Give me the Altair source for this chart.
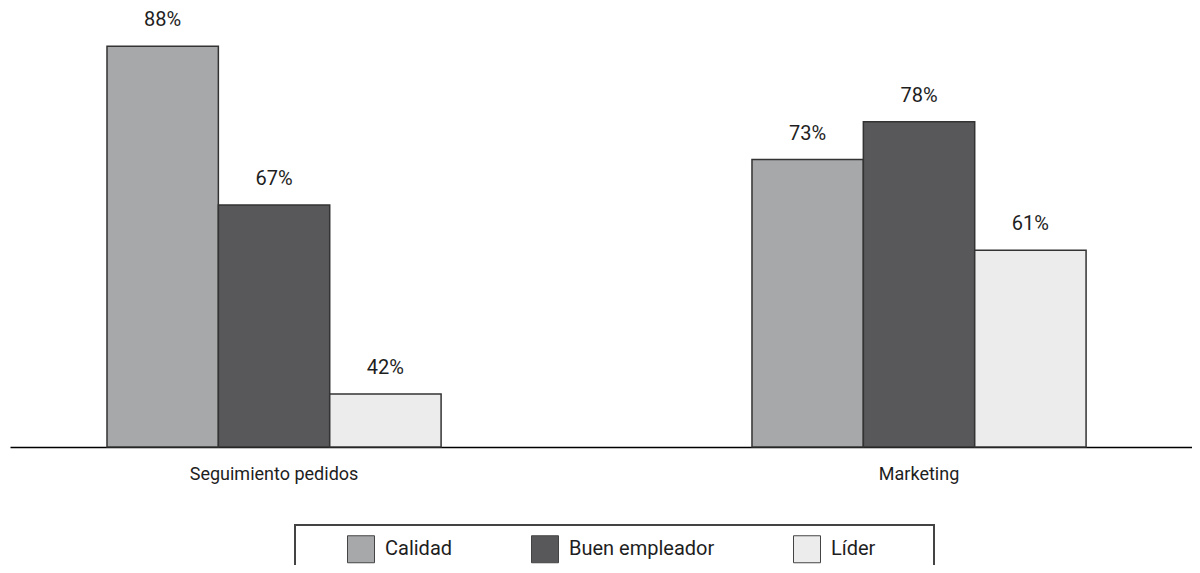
import altair as alt
import pandas as pd

groups = ["Seguimiento pedidos", "Marketing"]
series = ["Calidad", "Buen empleador", "Líder"]
values_seguimiento = [88, 67, 42]
values_marketing = [73, 78, 61]
colors = ["#a7a8aa", "#58585a", "#ebeceb"]

rows = []
for g, vals in zip(groups, [values_seguimiento, values_marketing]):
    for s, v in zip(series, vals):
        rows.append({"grupo": g, "serie": s, "valor": v, "etiqueta": f"{v}%"})
df = pd.DataFrame(rows)

FONT = "Roboto"
TXT = "#1e1e1e"

x = alt.X("grupo:N", sort=groups,
          scale=alt.Scale(paddingInner=0.482, paddingOuter=0.1573, align=0.478),
          axis=alt.Axis(title=None, ticks=False, labelAngle=0, labelPadding=18,
                        labelFontSize=18, labelFont=FONT, labelColor=TXT,
                        domainColor="#000", domainWidth=1.5))
xo = alt.XOffset("serie:N", sort=series,
                 scale=alt.Scale(paddingInner=0, paddingOuter=0))
y = alt.Y("valor:Q", scale=alt.Scale(domain=[35, 90], zero=False, nice=False),
          axis=None)

bars = alt.Chart(df).mark_bar(stroke="#333", strokeWidth=1.5).encode(
    x=x, xOffset=xo, y=y, y2=alt.datum(35),
    color=alt.Color("serie:N", sort=series,
                    scale=alt.Scale(domain=series, range=colors),
                    legend=alt.Legend(title="\u2003", titleOrient="right", titlePadding=49,
                                      titleFontSize=20,
                                      orient="none", direction="horizontal",
                                      legendX=285, legendY=494, padding=10,
                                      strokeColor="#444",
                                      symbolType="square", symbolSize=729,
                                      symbolStrokeColor="#444", symbolStrokeWidth=1,
                                      symbolOffset=42,
                                      labelFontSize=20, labelFont=FONT, labelColor=TXT,
                                      labelOffset=10, columnPadding=36,
                                      columns=3, gridAlign="each")),
)

labels = alt.Chart(df).mark_text(dy=-26, fontSize=20, font=FONT, color=TXT,
                                 baseline="middle").encode(
    x=x, xOffset=xo, y=y, text="etiqueta:N")

chart = (bars + labels).properties(
    width=1182, height=416,
    padding={"left": 2, "top": 23, "right": 0, "bottom": 118},
    autosize=alt.AutoSizeParams(type="none"),
).configure_view(stroke=None).configure_legend(strokeWidth=2)

chart.save("out.html", embed_options={"renderer": "svg", "actions": False})
